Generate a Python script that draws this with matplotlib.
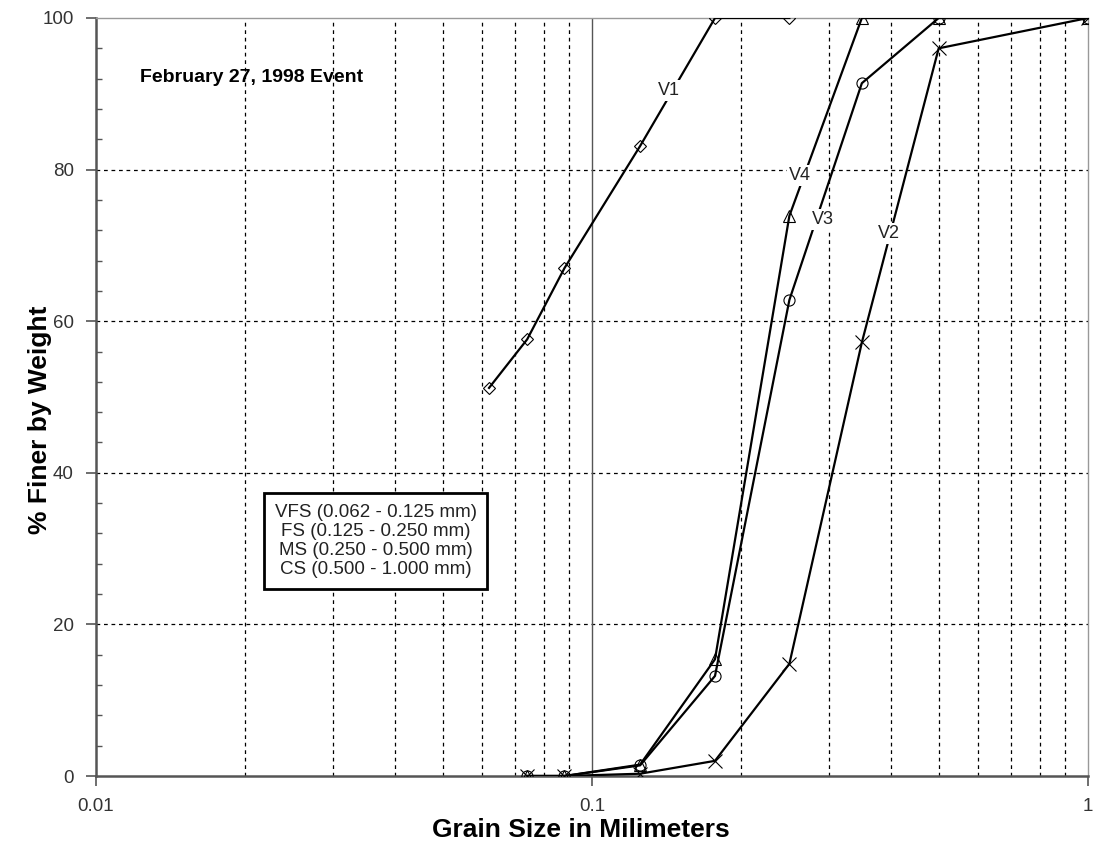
import numpy as np
import matplotlib
matplotlib.use("Agg")
import matplotlib.pyplot as plt
from matplotlib.ticker import FixedLocator, NullFormatter

plt.rcParams['font.family'] = ['Liberation Sans', 'DejaVu Sans']

# sieve sizes (mm) and % finer for each sample
size_v1 = [0.062, 0.074, 0.088, 0.125, 0.177, 0.25]
pct_v1 = [51.2, 57.6, 67.0, 83.1, 100, 100]

sizes = [0.074, 0.088, 0.125, 0.177, 0.25, 0.35, 0.5, 1.0]
pct_v2 = [0, 0, 0.3, 2.0, 14.8, 57.2, 96.0, 100]
pct_v3 = [0, 0, 1.4, 13.2, 62.8, 91.4, 100, 100]
pct_v4 = [0, 0, 1.5, 15.4, 73.9, 100, 100, 100]

classes = ["VFS (0.062 - 0.125 mm)",
           "FS (0.125 - 0.250 mm)",
           "MS (0.250 - 0.500 mm)",
           "CS (0.500 - 1.000 mm)"]

fig = plt.figure(figsize=(10.94, 8.46), dpi=100)
ax = fig.add_axes([96/1094, 70/846, 992/1094, 758/846])

ax.set_xscale('log')
ax.set_xlim(0.01, 1)
ax.set_ylim(0, 100)

# grid
minor_x = [m * d for d in (0.01, 0.1) for m in range(2, 10)]
for xv in minor_x:
    ax.axvline(xv, color='black', lw=0.9, ls=(0, (3, 3)), zorder=1)
for yv in (20, 40, 60, 80):
    ax.axhline(yv, color='black', lw=0.9, ls=(0, (3, 3)), zorder=1)
ax.axvline(0.1, color='#555555', lw=1.0, zorder=1)

kw = dict(color='black', lw=1.6, mfc='none', mec='black', mew=0.8, zorder=3)
ax.plot(size_v1, pct_v1, marker='D', ms=6.5, **kw)
ax.plot(sizes, pct_v2, marker='x', ms=10, **kw)
ax.plot(sizes, pct_v3, marker='o', ms=8, **kw)
ax.plot(sizes, pct_v4, marker='^', ms=8, **kw)

lab = dict(fontsize=13, ha='center', va='center', zorder=4, color='#222222',
           bbox=dict(facecolor='white', edgecolor='none', pad=1.5))
ax.text(0.143, 90.4, "V1", **lab)
ax.text(0.263, 79.2, "V4", **lab)
ax.text(0.292, 73.4, "V3", **lab)
ax.text(0.397, 71.6, "V2", **lab)

ax.text(0.0206, 92.1, "February 27, 1998 Event", fontsize=14,
        fontweight='bold', ha='center', va='center')

ax.text(0.282, 0.31, "\n".join(classes), transform=ax.transAxes,
        fontsize=13.5, ha='center', va='center', linespacing=1.17,
        color='#222222',
        bbox=dict(boxstyle='square,pad=0.55', facecolor='white',
                  edgecolor='black', lw=2), zorder=5)

# ticks / spines
ax.set_xticks([0.01, 0.1, 1])
ax.set_xticklabels(["0.01", "0.1", "1"])
ax.xaxis.set_minor_locator(FixedLocator([]))
ax.xaxis.set_minor_formatter(NullFormatter())
ax.set_yticks(np.arange(0, 101, 20))
ax.yaxis.set_minor_locator(FixedLocator(np.arange(0, 101, 4)))
ax.tick_params(axis='both', which='major', direction='out', length=7,
               width=1.2, color='#555555', labelsize=13.5, labelcolor='#333333',
               pad=9)
ax.tick_params(axis='y', which='minor', direction='in', length=4,
               width=1.0, color='#555555')
for s in ('left', 'bottom'):
    ax.spines[s].set_color('#555555')
    ax.spines[s].set_linewidth(1.8)
for s in ('top', 'right'):
    ax.spines[s].set_color('#999999')
    ax.spines[s].set_linewidth(1.0)

ax.set_xlabel("Grain Size in Milimeters", fontsize=19, fontweight='bold')
ax.set_ylabel("% Finer by Weight", fontsize=19, fontweight='bold')
ax.xaxis.set_label_coords(0.489, -0.071)
ax.yaxis.set_label_coords(-0.056, 0.47)
ax.xaxis.label.set_va('center')
ax.yaxis.label.set_va('center')

fig.savefig("out.png", dpi=100)
